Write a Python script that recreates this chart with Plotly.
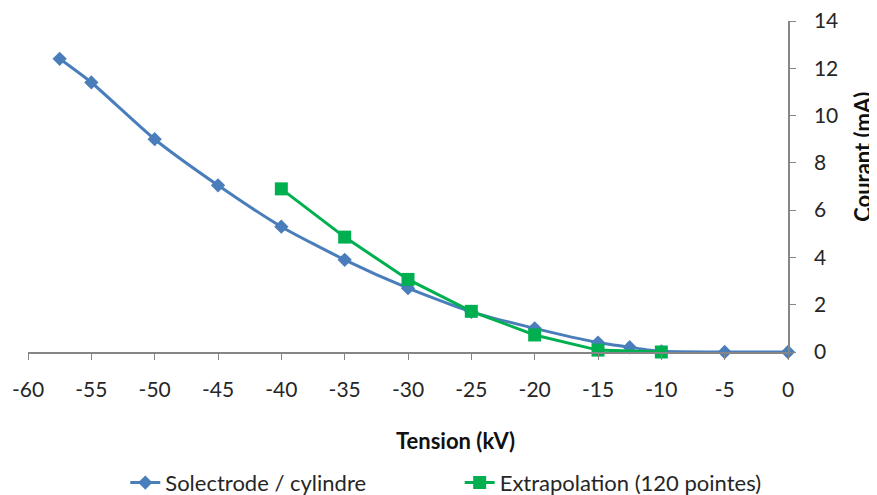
import plotly.graph_objects as go

# Courbes courant / tension
tension_solectrode = [-57.5, -55, -50, -45, -40, -35, -30, -25, -20, -15, -12.5, -10, -5, 0]
courant_solectrode = [12.4, 11.4, 9.0, 7.05, 5.3, 3.9, 2.7, 1.7, 1.0, 0.4, 0.2, 0.03, 0.0, 0.0]

tension_extrap = [-40, -35, -30, -25, -20, -15, -10]
courant_extrap = [6.9, 4.86, 3.07, 1.72, 0.72, 0.08, 0.0]

x_ticks = [-60, -55, -50, -45, -40, -35, -30, -25, -20, -15, -10, -5, 0]
x_labels = ["-60", "-55", "-50", "-45", "-40", "-35", "-30", "-25", "-20", "-15", "-10", "-5", "0"]
y_ticks = [0, 2, 4, 6, 8, 10, 12, 14]

font_family = "Lato, Open Sans, sans-serif"
axis_color = "#868686"
text_color = "#262626"

fig = go.Figure()

fig.add_trace(go.Scatter(
    x=tension_solectrode, y=courant_solectrode,
    name="Solectrode / cylindre",
    mode="lines+markers",
    line=dict(color="#4A7EBB", width=3, shape="spline", smoothing=0.6),
    marker=dict(symbol="diamond", size=11, color="#4A7EBB"),
    cliponaxis=False,
    showlegend=True,
    legend="legend",
))

fig.add_trace(go.Scatter(
    x=tension_extrap, y=courant_extrap,
    name="Extrapolation (120 pointes)",
    mode="lines+markers",
    line=dict(color="#00B050", width=3),
    marker=dict(symbol="square", size=13, color="#00B050"),
    cliponaxis=False,
    showlegend=True,
    legend="legend2",
))

# the page body has an 8px margin, so the figure is drawn 8px in from the corner
fig.update_layout(
    width=869, height=487,
    margin=dict(l=20, r=89, t=13, b=143, autoexpand=False),
    showlegend=True,
    plot_bgcolor="white",
    paper_bgcolor="white",
    font=dict(family=font_family, size=21, color=text_color),
    xaxis=dict(
        range=[-60, 0],
        tickvals=x_ticks, ticktext=x_labels,
        showgrid=False,
        zeroline=False,
        automargin=False,
        showline=True, linecolor=axis_color, linewidth=1.5,
        ticks="outside", ticklen=6, tickcolor=axis_color,
        ticklabelstandoff=12,
        ticklabeloverflow="allow",
        tickfont=dict(size=21),
    ),
    yaxis=dict(
        range=[0, 14],
        tickvals=y_ticks,
        side="right",
        showgrid=False,
        zeroline=False,
        automargin=False,
        showline=True, linecolor=axis_color, linewidth=1.5,
        ticks="outside", ticklen=6, tickcolor=axis_color,
        ticklabelstandoff=14,
        ticklabeloverflow="allow",
        tickfont=dict(size=21),
    ),
    legend=dict(
        orientation="h",
        x=0.128, xanchor="left",
        y=-0.395, yanchor="middle",
        font=dict(size=22),
    ),
    legend2=dict(
        orientation="h",
        x=0.568, xanchor="left",
        y=-0.395, yanchor="middle",
        font=dict(size=22),
    ),
)

fig.add_annotation(
    text="<b>Tension (kV)</b>", xref="paper", yref="paper",
    x=0.563, y=-0.266, xanchor="center", yanchor="middle",
    showarrow=False, font=dict(size=22, color="#111111"),
)
fig.add_annotation(
    text="<b>Courant (mA)</b>", xref="paper", yref="paper",
    x=1.097, y=0.589, xanchor="center", yanchor="middle",
    textangle=-90, showarrow=False, font=dict(size=22, color="#111111"),
)

fig.write_html("out.html")
